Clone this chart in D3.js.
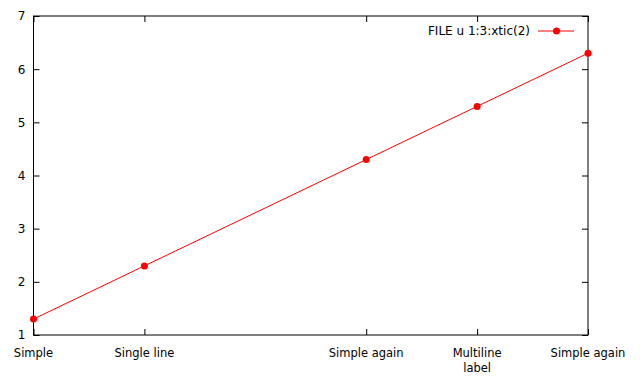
<!DOCTYPE html>
<html>
<head>
<meta charset="utf-8">
<script src="https://cdn.jsdelivr.net/npm/d3@7"></script>
<style>
  body { margin: 0; background: #fff; }
  text { font-family: "DejaVu Sans", sans-serif; font-size: 11.5px; fill: #000; }
</style>
</head>
<body>
<script>
// Data
var xValues = [1, 2, 4, 5, 6]
var yValues = [1.3, 2.3, 4.3, 5.3, 6.3]
var xTickLabels = ["Simple", "Single line", "Simple again", "Multiline\nlabel", "Simple again"]
var yTicks = [1, 2, 3, 4, 5, 6, 7]
var legendLabel = "FILE u 1:3:xtic(2)"

// Size and margins
var width = 640, height = 384
var margin = {top: 16, right: 52, bottom: 49, left: 33.5}

var svg = d3.select("body").append("svg")
    .attr("width", width)
    .attr("height", height)

// Scales
var x = d3.scaleLinear()
    .domain([1, 6])
    .range([margin.left, width - margin.right])

var y = d3.scaleLinear()
    .domain([1, 7])
    .range([height - margin.bottom, margin.top])

var tickLen = 6

// Y axis ticks, left and mirrored right
var yAxis = d3.axisLeft(y).tickValues(yTicks).tickFormat(d3.format("d"))
    .tickSizeInner(-tickLen).tickSizeOuter(0).tickPadding(8)
var gy = svg.append("g")
    .attr("transform", "translate(" + margin.left + ",0)")
    .call(yAxis)
gy.select(".domain").remove()
gy.selectAll("text").style("font-size", "12px").style("font-family", "DejaVu Sans")

var gyr = svg.append("g")
    .attr("transform", "translate(" + (width - margin.right) + ",0)")
    .call(d3.axisRight(y).tickValues(yTicks).tickSizeInner(-tickLen).tickSizeOuter(0).tickFormat(""))
gyr.select(".domain").remove()

// X axis ticks, bottom and mirrored top
var gx = svg.append("g")
    .attr("transform", "translate(0," + (height - margin.bottom) + ")")
    .call(d3.axisBottom(x).tickValues(xValues).tickSizeInner(-tickLen).tickSizeOuter(0).tickFormat(""))
gx.select(".domain").remove()

var gxt = svg.append("g")
    .attr("transform", "translate(0," + margin.top + ")")
    .call(d3.axisTop(x).tickValues(xValues).tickSizeInner(-tickLen).tickSizeOuter(0).tickFormat(""))
gxt.select(".domain").remove()

svg.selectAll(".tick line").attr("stroke", "#000")

// X tick labels (may be multiline)
xValues.forEach(function(v, i) {
  var lines = xTickLabels[i].split("\n")
  var t = svg.append("text")
      .attr("x", x(v))
      .attr("y", height - margin.bottom + 22)
      .style("text-anchor", "middle")
  lines.forEach(function(line, j) {
    t.append("tspan")
      .attr("x", x(v))
      .attr("dy", j == 0 ? 0 : 15)
      .text(line)
  })
})

// Frame
svg.append("rect")
    .attr("x", margin.left)
    .attr("y", margin.top)
    .attr("width", width - margin.right - margin.left)
    .attr("height", height - margin.bottom - margin.top)
    .attr("fill", "none")
    .attr("stroke", "#000")
    .attr("stroke-width", 1)

// Line and points
var color = "#ff0000"
var data = d3.zip(xValues, yValues)

svg.append("path")
    .datum(data)
    .attr("fill", "none")
    .attr("stroke", color)
    .attr("stroke-width", 1)
    .attr("d", d3.line().x(function(d) { return x(d[0]) }).y(function(d) { return y(d[1]) }))

svg.selectAll(".pt")
    .data(data)
    .enter().append("circle")
    .attr("class", "pt")
    .attr("cx", function(d) { return x(d[0]) })
    .attr("cy", function(d) { return y(d[1]) })
    .attr("r", 3.5)
    .attr("fill", color)

// Legend
var ly = 31
svg.append("text")
    .attr("x", 530)
    .attr("y", ly)
    .attr("dy", "0.35em")
    .style("font-size", "12px")
    .style("text-anchor", "end")
    .text(legendLabel)

svg.append("line")
    .attr("x1", 538).attr("x2", 574)
    .attr("y1", ly).attr("y2", ly)
    .attr("stroke", color)

svg.append("circle")
    .attr("cx", 556.5).attr("cy", ly)
    .attr("r", 3.5)
    .attr("fill", color)
</script>
</body>
</html>
